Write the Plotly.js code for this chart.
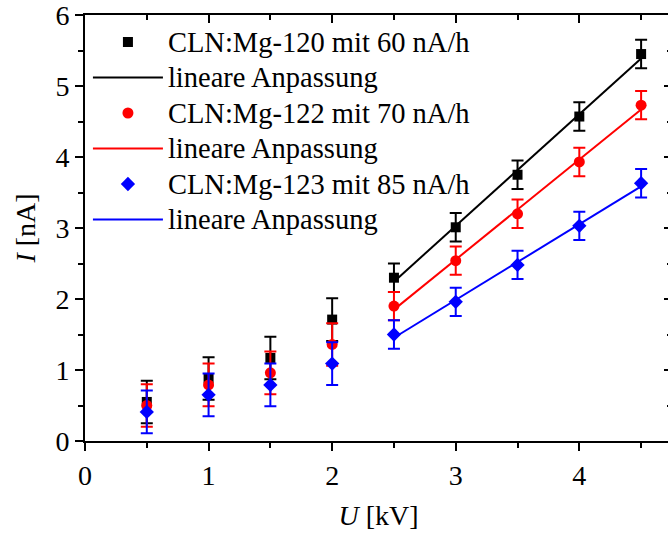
<!DOCTYPE html>
<html><head><meta charset="utf-8">
<script src="https://cdn.plot.ly/plotly-3.0.1.min.js"></script>
<style>html,body{margin:0;padding:0;overflow:hidden;background:#fff}#plot{width:680px;height:533px}</style>
</head><body><div id="plot"></div>
<script>
const U = [0.5, 1.0, 1.5, 2.0, 2.5, 3.0, 3.5, 4.0, 4.5];
const I_120 = [0.55, 0.88, 1.17, 1.71, 2.30, 3.01, 3.75, 4.57, 5.45];
const I_122 = [0.50, 0.79, 0.96, 1.36, 1.90, 2.54, 3.20, 3.93, 4.73];
const I_123 = [0.41, 0.65, 0.79, 1.09, 1.50, 1.96, 2.48, 3.03, 3.63];
const err_120 = [0.30, 0.30, 0.30, 0.30, 0.20, 0.20, 0.20, 0.20, 0.20];
const err_122 = [0.30, 0.30, 0.30, 0.30, 0.20, 0.20, 0.20, 0.20, 0.20];
const err_123 = [0.30, 0.30, 0.30, 0.30, 0.20, 0.20, 0.20, 0.20, 0.20];
const names = ["CLN:Mg-120 mit 60 nA/h", "CLN:Mg-122 mit 70 nA/h", "CLN:Mg-123 mit 85 nA/h"];
const fitLabel = "lineare Anpassung";
const fitStartU = 2.5;

function linFit(xs, ys) {
  const px = [], py = [];
  xs.forEach((x, i) => { if (x >= fitStartU) { px.push(x); py.push(ys[i]); } });
  const n = px.length;
  const mx = px.reduce((a, b) => a + b, 0) / n;
  const my = py.reduce((a, b) => a + b, 0) / n;
  let sxy = 0, sxx = 0;
  for (let i = 0; i < n; i++) { sxy += (px[i] - mx) * (py[i] - my); sxx += (px[i] - mx) ** 2; }
  const m = sxy / sxx, b = my - m * mx;
  return { x: px, y: px.map(x => m * x + b) };
}

const big = t => '<span style="font-size:28.5px">' + t + '</span>';

const series = [
  { y: I_120, e: err_120, color: "#000000", symbol: "square", size: 10, name: names[0] },
  { y: I_122, e: err_122, color: "#ff0000", symbol: "circle", size: 11, name: names[1] },
  { y: I_123, e: err_123, color: "#0000ff", symbol: "diamond", size: 11, name: names[2] }
];

const traces = [];
series.forEach((s, k) => {
  traces.push({
    x: U, y: s.y, type: "scatter", mode: "markers", name: big(s.name),
    marker: { color: s.color, symbol: s.symbol, size: s.size },
    error_y: { type: "data", array: s.e, visible: true, color: s.color, thickness: 2, width: 6 }
  });
  const f = linFit(U, s.y);
  traces.push({
    x: f.x, y: f.y, type: "scatter", mode: "lines", name: big(fitLabel),
    line: { color: s.color, width: 2 }
  });
});
// dummy trace for mirrored axes
traces.push({ x: [0], y: [0], xaxis: "x2", yaxis: "y2", mode: "markers", marker: { opacity: 0 }, showlegend: false, hoverinfo: "skip" });

const serif = "Liberation Serif, Times New Roman, serif";
const axBase = {
  showgrid: false, zeroline: false, showline: true, linecolor: "#000", linewidth: 2,
  tickcolor: "#000", tickwidth: 2, ticklen: 8, ticklabeloverflow: "allow",
  tickfont: { family: serif, size: 28, color: "#000" }
};

const layout = {
  width: 680, height: 533,
  margin: { l: 85, r: 8, t: 15, b: 92 },
  paper_bgcolor: "#fff", plot_bgcolor: "#fff",
  font: { family: serif, size: 28, color: "#000" },
  showlegend: true,
  legend: {
    x: 0.005, y: 0.99, xanchor: "left", yanchor: "top",
    bgcolor: "rgba(0,0,0,0)", borderwidth: 0,
    font: { family: serif, size: 25, color: "#000" },
    itemwidth: 70, traceorder: "normal"
  },
  xaxis: Object.assign({}, axBase, {
    range: [0, 4.75], tickmode: "array", tickvals: [0, 1, 2, 3, 4], ticks: "outside",
    minor: { tickvals: [0.5, 1.5, 2.5, 3.5, 4.5], ticks: "outside", ticklen: 5, tickwidth: 2, tickcolor: "#000" },
    title: { text: "<i>U</i> [kV]", font: { family: serif, size: 28, color: "#000" }, standoff: 16 }
  }),
  yaxis: Object.assign({}, axBase, {
    range: [0, 6], tickmode: "array", tickvals: [0, 1, 2, 3, 4, 5, 6], ticks: "outside",
    minor: { tickvals: [0.5, 1.5, 2.5, 3.5, 4.5, 5.5], ticks: "outside", ticklen: 5, tickwidth: 2, tickcolor: "#000" },
    title: { text: "<i>I</i> [nA]", font: { family: serif, size: 28, color: "#000" }, standoff: 12 }
  }),
  xaxis2: Object.assign({}, axBase, {
    overlaying: "x", side: "top", anchor: "y2", range: [0, 4.75],
    tickmode: "array", tickvals: [0, 1, 2, 3, 4], ticks: "inside", showticklabels: false,
    minor: { tickvals: [0.5, 1.5, 2.5, 3.5, 4.5], ticks: "inside", ticklen: 5, tickwidth: 2, tickcolor: "#000" }
  }),
  yaxis2: Object.assign({}, axBase, {
    overlaying: "y", side: "right", anchor: "x2", range: [0, 6],
    tickmode: "array", tickvals: [0, 1, 2, 3, 4, 5, 6], ticks: "inside", showticklabels: false,
    minor: { tickvals: [0.5, 1.5, 2.5, 3.5, 4.5, 5.5], ticks: "inside", ticklen: 5, tickwidth: 2, tickcolor: "#000" }
  })
};

Plotly.newPlot("plot", traces, layout, { displayModeBar: false, staticPlot: true });
</script></body></html>
